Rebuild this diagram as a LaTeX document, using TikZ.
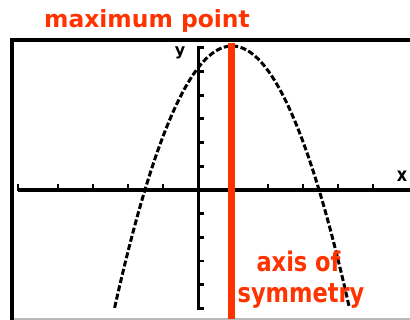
\documentclass[tikz,border=0pt]{standalone}
\usepackage{fontspec}
\setmainfont{DejaVu Sans}
\definecolor{labred}{HTML}{FF3300}
\tikzset{
  frameline/.style={black, line width=4pt},
  axisline/.style={black, line width=3.4pt},
  tickline/.style={black, line width=2.8pt},
  curveline/.style={black, line width=3pt, dash pattern=on 6pt off 2.5pt},
  symline/.style={labred, line width=7pt},
  redlabel/.style={labred, inner sep=0pt, font=\bfseries\fontsize{22.5}{27}\selectfont},
  axlabel/.style={black, inner sep=0pt, font=\bfseries\fontsize{16}{18}\selectfont}
}
\begin{document}
\begin{tikzpicture}[x=1pt,y=-1pt]
\useasboundingbox[fill=white] (0,0) rectangle (410,320);
% frame
\draw[gray!55, line width=2pt] (10,319) -- (410,319);
\draw[frameline] (410,40) -- (12,40) -- (12,320);
% x axis
\coordinate (xa) at (18,190);
\coordinate (xb) at (410,190);
\draw[axisline] (xa) -- (xb);
\foreach \t in {18,58,93,128,163,233,268,303,338,373}
  \draw[tickline] (\t,191) -- (\t,184.5);
% y axis
\coordinate (ya) at (198.5,47);
\coordinate (yb) at (198.5,309);
\draw[axisline] (ya) -- (yb);
\foreach \k in {1,...,6}
  \draw[tickline] (197,{190-23.7*\k}) -- (204,{190-23.7*\k});
\foreach \k in {1,...,5}
  \draw[tickline] (197,{190+23.7*\k}) -- (204,{190+23.7*\k});
% parabola
\draw[curveline] plot[domain=-117.4:117.4, samples=120] ({232+\x}, {46+0.019*\x*\x});
% axis of symmetry
\coordinate (sa) at (231.5,43);
\coordinate (sb) at (231.5,319);
\draw[symline] (sa) -- (sb);
% labels
\node[axlabel, anchor=center] (ylab) at (180,53) {y};
\node[axlabel, anchor=center] (xlab) at (402,176) {\scalebox{1}[1.2]{x}};
\node[redlabel, anchor=base west] (maxpt) at (44,28) {\scalebox{1.04}[1.05]{maximum point}};
\node[redlabel, anchor=base] (axis1) at (298.5,272) {\scalebox{1}[1.2]{axis of}};
\node[redlabel, anchor=base] (axis2) at (301,303) {\scalebox{1}[1.2]{symmetry}};
\end{tikzpicture}
\end{document}
